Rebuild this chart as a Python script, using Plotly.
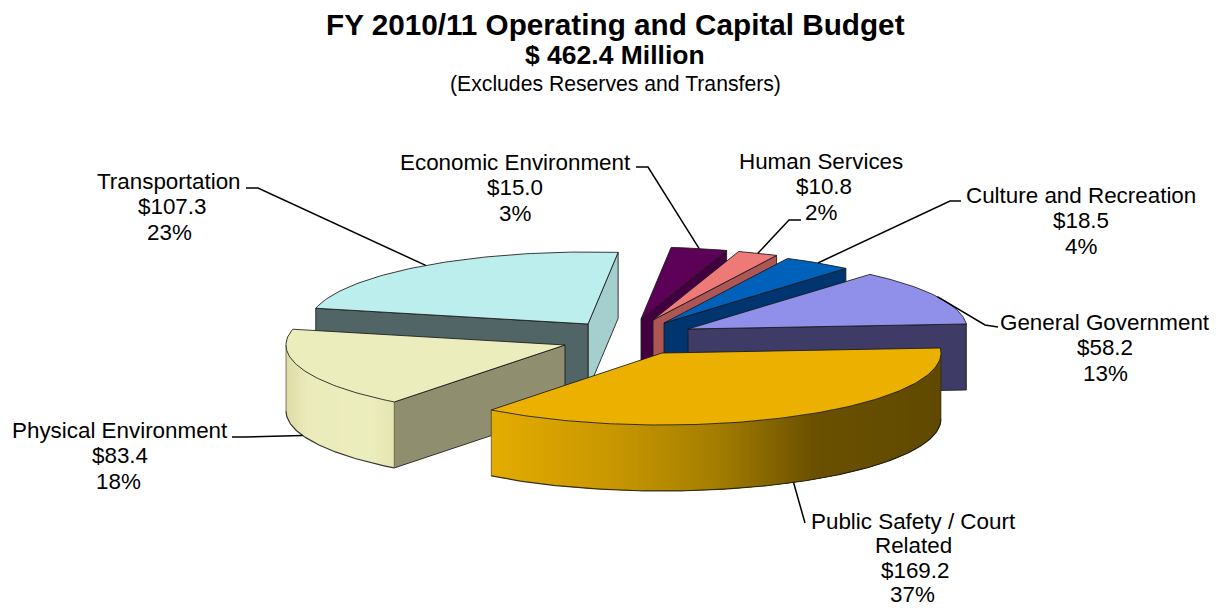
import math
import plotly.graph_objects as go

# Budget by function, $ millions
CATEGORIES = ["General Government", "Culture and Recreation", "Human Services",
              "Economic Environment", "Transportation", "Physical Environment",
              "Public Safety / Court Related"]
VALUES = [58.2, 18.5, 10.8, 15.0, 107.3, 83.4, 169.2]
TITLE = "FY 2010/11 Operating and Capital Budget"
SUBTITLE = "$ 462.4 Million"
NOTE = "(Excludes Reserves and Transfers)"

# Projection of the tilted pie
RX, RY, DEPTH = 279.0, 72.0, 66.0
START_DEG = 4.0

# Per-slice styling: exploded apex, top face, start wall, end wall, curved wall ramp
STYLE = {
    "General Government": dict(apex=(688, 329), top="#9090ea", wall="#3e3c66"),
    "Culture and Recreation": dict(apex=(664, 323), top="#0061bb", wall="#003570"),
    "Human Services": dict(apex=(653, 320), top="#ee7a78", wall="#ad5656"),
    "Economic Environment": dict(apex=(641, 319), top="#5c0058", wall="#430040"),
    "Transportation": dict(apex=(588, 324), top="#bdeeee", wall="#a5cfcf", end_wall="#526566"),
    "Physical Environment": dict(apex=(565, 345), top="#ecedbd", end_wall="#8f8f6f",
                                 ramp=[(0, "#dedca6"), (.2, "#ebebbb"), (.8, "#ecedbd"), (1, "#e6e5b2")]),
    "Public Safety / Court Related": dict(apex=(662, 353), top="#ecb100",
                                          ramp=[(0, "#e4ac00"), (.27, "#c89700"), (.5, "#a47e00"),
                                                (.72, "#6a5000"), (1, "#604a00")]),
}

# Label placement: centre x per text line, first row y, row step, and leader knee points
LABELS = {
    "Transportation": dict(cx=[169, 172, 169], y=181, step=25.8, knee=[(246, 188), (258, 188)]),
    "Economic Environment": dict(cx=[515, 515, 515], y=162, step=25.8, knee=[(636, 167), (648, 167)]),
    "Human Services": dict(cx=[821, 824, 821], y=161, step=25.8, knee=[(801, 220), (789, 220)]),
    "Culture and Recreation": dict(cx=[1081, 1081, 1081], y=195, step=25.8, knee=[(961, 201), (950, 201)]),
    "General Government": dict(cx=[1105, 1105, 1105], y=322, step=25.8, knee=[(998, 327), (985, 325)]),
    "Physical Environment": dict(cx=[120, 120, 118], y=430, step=25.8, knee=[(232, 437), (245, 437)]),
    "Public Safety / Court Related": dict(cx=[913, 913, 915, 912], y=521, step=24.5, knee=[(805, 523)]),
}
EDGE = "rgba(25,25,25,0.85)"


def point(apex, deg, drop=0.0):
    a = math.radians(deg)
    return apex[0] + RX * math.cos(a), apex[1] - RY * math.sin(a) + drop


def arc(apex, a0, a1, drop=0.0, step=1.0):
    n = max(2, int(abs(a1 - a0) / step) + 1)
    return [point(apex, a0 + (a1 - a0) * i / (n - 1), drop) for i in range(n)]


def hex_rgb(h):
    return tuple(int(h[i:i + 2], 16) for i in (1, 3, 5))


def ramp_colour(stops, t):
    for (t0, c0), (t1, c1) in zip(stops, stops[1:]):
        if t <= t1:
            f = (t - t0) / (t1 - t0)
            a, b = hex_rgb(c0), hex_rgb(c1)
            return "rgb(%d,%d,%d)" % tuple(round(a[i] + (b[i] - a[i]) * f) for i in range(3))
    return stops[-1][1]


fig = go.Figure()


def polygon(pts, fill, line=None, width=0.0):
    xs = [p[0] for p in pts] + [pts[0][0]]
    ys = [p[1] for p in pts] + [pts[0][1]]
    fig.add_trace(go.Scatter(x=xs, y=ys, mode="lines", fill="toself", fillcolor=fill,
                             line=dict(color=line or fill, width=width),
                             hoverinfo="skip", showlegend=False))


def stroke(pts, color=EDGE, width=1.0):
    fig.add_trace(go.Scatter(x=[p[0] for p in pts], y=[p[1] for p in pts], mode="lines",
                             line=dict(color=color, width=width),
                             hoverinfo="skip", showlegend=False))


# Slice angles follow directly from the values
TOTAL = sum(VALUES)
angles = {}
cursor = START_DEG
for name, value in zip(CATEGORIES, VALUES):
    sweep = value / TOTAL * 360.0
    angles[name] = (cursor, cursor + sweep)
    cursor += sweep

# Painter's order: rear slices first, the front slice last
DRAW_ORDER = ["Transportation", "Economic Environment", "Human Services", "Culture and Recreation",
              "General Government", "Physical Environment", "Public Safety / Court Related"]

for name in DRAW_ORDER:
    a0, a1 = angles[name]
    st = STYLE[name]
    apex = st["apex"]

    # Cut faces that turn towards the viewer
    if math.cos(math.radians(a0)) > 0:
        tip = point(apex, a0)
        polygon([apex, tip, (tip[0], tip[1] + DEPTH), (apex[0], apex[1] + DEPTH)],
                st["wall"], EDGE, 1.0)
    if math.cos(math.radians(a1)) < 0:
        tip = point(apex, a1)
        polygon([apex, tip, (tip[0], tip[1] + DEPTH), (apex[0], apex[1] + DEPTH)],
                st["end_wall"], EDGE, 1.0)

    # Curved rim: overlapping strips painted left to right, so no seams show in the shading
    w0, w1 = max(a0, 180.0), min(a1, 360.0)
    if "ramp" in st and w1 > w0:
        rim = arc(apex, w0, w1, step=0.8)
        x_lo = min(p[0] for p in rim)
        x_hi = max(p[0] for p in rim)
        for i in range(len(rim) - 1):
            band = rim[i:i + 5]
            t = ((rim[i][0] + rim[i + 1][0]) / 2 - x_lo) / (x_hi - x_lo)
            colour = ramp_colour(st["ramp"], t)
            polygon(band + [(p[0], p[1] + DEPTH) for p in reversed(band)], colour)
        stroke([(p[0], p[1] + DEPTH) for p in rim], width=1.2)
        stroke([rim[0], (rim[0][0], rim[0][1] + DEPTH)], color="rgba(25,25,25,0.55)")
        stroke([rim[-1], (rim[-1][0], rim[-1][1] + DEPTH)], color="rgba(25,25,25,0.55)")

    # Top face
    polygon([apex] + arc(apex, a0, a1), st["top"], EDGE, 1.0)

# Leader lines end on the rim at each slice's mid-angle
for name in CATEGORIES:
    a0, a1 = angles[name]
    mid = (a0 + a1) / 2
    drop = DEPTH if math.sin(math.radians(mid)) < 0 else 0.0
    stroke(LABELS[name]["knee"] + [point(STYLE[name]["apex"], mid, drop)], color="#000000", width=1.5)

annotations = []


def text(x, y, s, size, bold=False):
    annotations.append(dict(x=x, y=y, xref="x", yref="y", text="<b>%s</b>" % s if bold else s,
                            showarrow=False, xanchor="center", yanchor="middle", borderpad=0,
                            font=dict(family="Liberation Sans", size=size, color="#000000")))


text(615, 24, TITLE, 29.7, True)
text(615, 55, SUBTITLE, 26.5, True)
text(615, 84, NOTE, 21.2)

for name, value in zip(CATEGORIES, VALUES):
    spec = LABELS[name]
    if name == "Public Safety / Court Related":
        lines = ["Public Safety / Court", "Related"]
    else:
        lines = [name]
    lines += ["$%.1f" % value, "%d%%" % round(value / TOTAL * 100)]
    for i, line in enumerate(lines):
        text(spec["cx"][i], spec["y"] + i * spec["step"], line, 22.4)

fig.update_layout(
    width=1222, height=610, margin=dict(l=0, r=0, t=0, b=0),
    paper_bgcolor="#ffffff", plot_bgcolor="#ffffff", showlegend=False,
    xaxis=dict(range=[0, 1222], visible=False, fixedrange=True),
    yaxis=dict(range=[610, 0], visible=False, fixedrange=True),
    annotations=annotations,
)
fig.write_html("out.html", config=dict(displayModeBar=False))
